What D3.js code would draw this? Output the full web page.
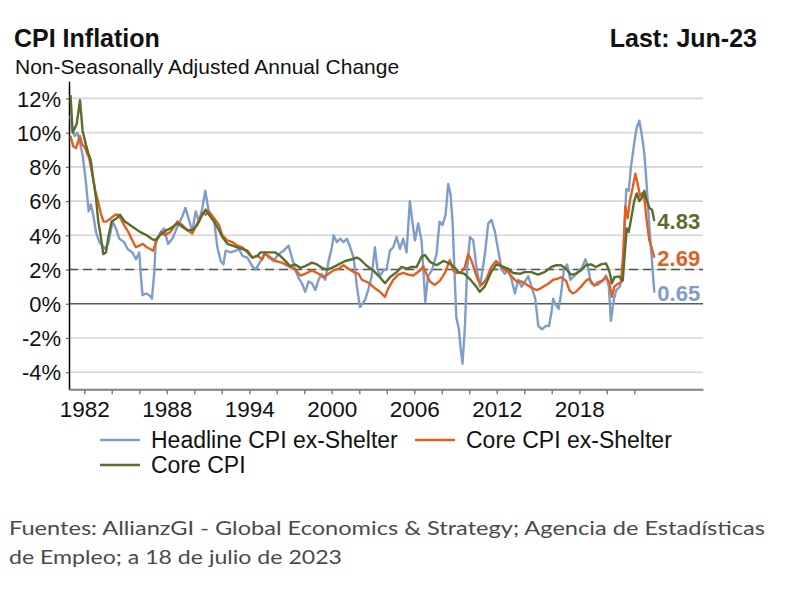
<!DOCTYPE html>
<html><head><meta charset="utf-8">
<script src="https://cdn.jsdelivr.net/npm/d3@7"></script>
<style>body{margin:0;background:#fff}svg{display:block}</style>
</head><body>
<script>
// ---- DATA (decimal year, % yoy) ----
const headlineExShelter = [
[1981.00,11.0],[1981.10,10.2],[1981.30,9.8],[1981.50,10.0],[1981.64,9.6],[1981.88,8.7],[1982.12,7.1],[1982.32,5.4],[1982.48,5.8],[1982.65,5.2],[1982.85,4.2],
[1983.09,3.6],[1983.33,3.4],[1983.53,3.2],[1983.77,3.6],[1984.06,4.8],[1984.30,4.4],[1984.55,3.8],[1984.90,3.6],[1985.15,3.2],[1985.50,3.0],[1985.76,2.6],
[1986.00,3.0],[1986.13,1.5],[1986.24,0.5],[1986.50,0.6],[1986.73,0.5],[1986.92,0.3],[1987.09,1.8],[1987.20,3.6],[1987.58,4.2],[1987.82,4.4],
[1988.09,3.5],[1988.41,3.8],[1988.77,4.5],[1989.13,5.1],[1989.35,5.6],[1989.62,4.9],[1989.86,4.2],[1990.10,5.4],[1990.35,4.8],[1990.59,5.6],[1990.80,6.6],
[1991.07,5.3],[1991.44,4.9],[1991.68,3.3],[1991.92,2.5],[1992.12,2.3],[1992.28,3.1],[1992.65,3.0],[1993.01,3.1],[1993.25,3.2],[1993.50,2.8],[1993.86,2.7],
[1994.22,2.2],[1994.47,2.0],[1994.83,2.5],[1995.16,3.0],[1995.40,2.7],[1995.77,2.5],[1996.13,2.9],[1996.50,3.1],[1996.86,3.4],[1997.10,2.7],[1997.34,2.0],
[1997.59,1.5],[1997.83,1.2],[1998.07,0.7],[1998.31,1.3],[1998.56,1.2],[1998.80,0.8],[1999.04,1.4],[1999.28,1.75],[1999.53,1.4],[1999.77,2.5],[2000.01,3.3],
[2000.13,4.0],[2000.37,3.6],[2000.62,3.8],[2000.86,3.6],[2001.10,3.8],[2001.34,3.3],[2001.59,2.7],[2001.83,1.0],[2002.05,-0.2],[2002.41,0.2],[2002.65,0.8],
[2002.90,1.6],[2003.14,3.3],[2003.31,2.1],[2003.50,1.6],[2003.75,1.95],[2003.99,2.0],[2004.23,3.1],[2004.47,3.3],[2004.71,3.9],[2004.96,3.2],[2005.20,3.8],
[2005.44,3.0],[2005.68,6.0],[2005.88,4.7],[2006.05,3.7],[2006.29,4.7],[2006.53,3.7],[2006.68,1.75],[2006.80,0.1],[2007.00,1.6],[2007.30,2.0],[2007.62,2.9],
[2007.84,4.8],[2008.05,4.6],[2008.28,5.2],[2008.47,7.0],[2008.64,6.4],[2008.79,4.7],[2008.92,2.0],[2009.06,-0.8],[2009.25,-1.5],[2009.36,-2.5],[2009.51,-3.5],
[2009.68,-1.4],[2009.85,2.1],[2010.05,3.9],[2010.29,3.7],[2010.53,2.1],[2010.78,1.0],[2011.14,2.9],[2011.38,4.7],[2011.62,4.9],[2011.87,4.2],[2012.11,3.1],
[2012.35,2.0],[2012.59,1.75],[2012.84,2.0],[2013.08,1.4],[2013.32,0.6],[2013.56,1.4],[2013.80,1.0],[2014.05,1.3],[2014.29,1.6],[2014.53,1.0],[2014.80,0.3],
[2015.02,-1.3],[2015.30,-1.5],[2015.55,-1.3],[2015.80,-1.3],[2015.98,-0.5],[2016.10,0.3],[2016.25,0.0],[2016.50,-0.3],[2016.68,0.6],[2016.88,2.0],[2017.12,2.3],
[2017.35,1.4],[2017.60,1.6],[2017.88,1.85],[2018.20,2.1],[2018.45,2.6],[2018.62,2.2],[2018.85,1.2],[2019.10,1.1],[2019.35,1.1],[2019.70,1.35],[2019.95,1.65],
[2020.15,1.0],[2020.30,-1.0],[2020.50,0.2],[2020.70,0.8],[2020.95,1.0],[2021.16,1.8],[2021.30,4.5],[2021.42,6.7],[2021.60,6.6],[2021.76,8.0],[2022.00,9.4],
[2022.18,10.3],[2022.37,10.7],[2022.56,9.8],[2022.73,8.8],[2022.90,7.0],[2023.10,4.5],[2023.27,2.7],[2023.46,0.65]
];
const coreExShelter = [
[1981.00,9.8],[1981.20,9.2],[1981.40,9.1],[1981.68,9.8],[1981.85,9.3],[1982.00,9.2],[1982.36,8.5],[1982.60,7.5],[1982.80,6.6],[1983.00,6.0],[1983.20,5.3],
[1983.40,4.8],[1983.60,4.8],[1983.94,5.0],[1984.25,5.2],[1984.47,5.2],[1984.70,4.9],[1984.90,4.6],[1985.20,4.2],[1985.50,3.7],[1985.75,3.3],[1986.00,3.4],
[1986.25,3.5],[1986.55,3.3],[1986.80,3.2],[1987.00,3.1],[1987.27,3.7],[1987.60,4.2],[1987.85,4.0],[1988.28,4.2],[1988.77,4.8],[1989.13,4.6],[1989.50,4.3],
[1989.86,4.1],[1990.22,4.7],[1990.59,5.3],[1990.83,5.2],[1991.07,5.4],[1991.44,5.0],[1991.80,4.6],[1992.04,4.0],[1992.41,3.7],[1992.77,3.6],[1993.13,3.4],
[1993.50,3.3],[1993.86,3.0],[1994.22,2.7],[1994.59,2.8],[1994.95,2.6],[1995.10,2.9],[1995.40,2.8],[1995.89,2.5],[1996.37,2.4],[1996.86,2.2],[1997.34,2.0],
[1997.71,1.65],[1998.07,1.75],[1998.56,1.95],[1999.04,1.75],[1999.40,1.55],[1999.77,1.75],[2000.13,1.95],[2000.50,2.05],[2000.86,2.25],[2001.22,2.05],
[2001.59,1.85],[2001.95,1.75],[2002.19,1.4],[2002.50,1.3],[2002.80,1.15],[2003.14,0.9],[2003.50,0.7],[2003.87,0.4],[2004.11,0.9],[2004.47,1.4],[2004.84,1.7],
[2005.20,1.8],[2005.56,1.7],[2005.93,1.65],[2006.17,1.8],[2006.50,2.0],[2006.65,2.2],[2006.90,1.7],[2007.14,1.3],[2007.50,1.1],[2007.87,1.35],[2008.23,1.8],
[2008.59,2.55],[2008.84,1.95],[2009.08,1.8],[2009.44,1.85],[2009.68,2.15],[2009.92,2.9],[2010.17,2.5],[2010.45,1.8],[2010.65,1.35],[2010.90,1.1],[2011.25,1.45],
[2011.60,2.15],[2011.95,2.5],[2012.25,2.3],[2012.55,2.0],[2012.84,1.85],[2013.08,1.6],[2013.44,1.3],[2013.80,1.3],[2014.10,1.15],[2014.50,0.95],[2014.90,0.8],
[2015.20,0.9],[2015.50,1.05],[2015.80,1.2],[2016.10,1.4],[2016.40,1.45],[2016.67,1.55],[2017.04,1.35],[2017.28,0.8],[2017.52,0.6],[2017.76,0.7],[2018.13,1.0],
[2018.49,1.35],[2018.73,1.45],[2019.10,1.05],[2019.34,1.25],[2019.70,1.35],[2019.95,1.55],[2020.19,1.25],[2020.38,0.4],[2020.55,1.0],[2020.79,1.15],
[2021.04,1.25],[2021.21,3.1],[2021.35,5.7],[2021.52,5.0],[2021.69,6.05],[2021.89,6.8],[2022.08,7.6],[2022.25,7.0],[2022.42,6.3],[2022.56,6.45],[2022.73,6.2],
[2022.90,4.9],[2023.10,3.7],[2023.29,3.2],[2023.46,2.69]
];
const coreCPI = [
[1981.00,12.2],[1981.16,10.0],[1981.45,10.5],[1981.69,11.9],[1981.88,10.1],[1982.12,9.3],[1982.29,8.8],[1982.47,8.4],[1982.65,7.3],[1982.85,6.2],[1983.02,4.8],
[1983.19,4.0],[1983.38,2.9],[1983.58,3.0],[1983.75,3.9],[1983.99,4.8],[1984.36,5.0],[1984.60,5.2],[1984.96,4.8],[1985.32,4.6],[1985.69,4.4],[1986.05,4.2],
[1986.54,4.0],[1986.90,3.8],[1987.14,3.7],[1987.50,4.0],[1987.99,4.3],[1988.28,4.4],[1988.77,4.7],[1989.13,4.5],[1989.50,4.3],[1989.86,4.3],[1990.22,4.6],
[1990.59,5.2],[1990.83,5.5],[1991.07,5.2],[1991.44,4.8],[1991.80,4.3],[1992.04,3.9],[1992.41,3.5],[1992.77,3.4],[1993.13,3.3],[1993.50,3.2],[1993.86,3.1],
[1994.22,2.7],[1994.59,2.8],[1994.83,3.0],[1995.40,3.0],[1995.89,3.0],[1996.25,2.8],[1996.62,2.5],[1996.98,2.2],[1997.34,2.3],[1997.71,2.1],[1998.07,2.2],
[1998.56,2.4],[1998.92,2.3],[1999.28,2.1],[1999.65,2.0],[2000.01,2.1],[2000.50,2.3],[2000.98,2.5],[2001.47,2.6],[2001.83,2.7],[2002.05,2.6],[2002.50,2.25],
[2003.00,1.95],[2003.50,1.55],[2003.87,1.2],[2004.23,1.55],[2004.72,1.85],[2005.08,2.15],[2005.44,2.05],[2005.80,2.15],[2006.17,2.15],[2006.53,2.75],
[2006.78,2.85],[2007.14,2.45],[2007.63,2.25],[2008.11,2.5],[2008.60,2.35],[2009.08,2.0],[2009.18,1.85],[2009.66,1.75],[2010.15,1.35],[2010.51,1.0],
[2010.76,0.7],[2011.12,1.0],[2011.60,1.85],[2011.97,2.3],[2012.33,2.2],[2012.82,2.05],[2013.18,1.8],[2013.67,1.75],[2014.03,1.85],[2014.51,1.85],
[2015.00,1.7],[2015.48,1.85],[2015.97,2.15],[2016.33,2.25],[2016.67,2.25],[2017.04,2.05],[2017.40,1.7],[2017.76,1.75],[2018.13,1.95],[2018.49,2.25],
[2018.85,2.3],[2019.22,2.15],[2019.58,2.3],[2019.95,2.35],[2020.19,1.9],[2020.38,1.2],[2020.55,1.55],[2020.90,1.6],[2021.16,1.35],[2021.30,2.8],[2021.45,4.4],
[2021.60,4.2],[2021.76,4.9],[2022.00,6.0],[2022.18,6.45],[2022.37,6.0],[2022.56,6.2],[2022.73,6.6],[2022.90,6.05],[2023.10,5.6],[2023.29,5.5],[2023.46,4.83]
];
const seriesNames = ["Headline CPI ex-Shelter", "Core CPI ex-Shelter", "Core CPI"];
const seriesColors = ["#7f9dcb", "#e2601f", "#5a6e2b"];
const yTicks = [-4, -2, 0, 2, 4, 6, 8, 10, 12];
const xTickYears = d3.range(1982, 2023, 2);
const xLabelYears = [1982, 1988, 1994, 2000, 2006, 2012, 2018];
const targetLevel = 2;
const titleText = "CPI Inflation";
const subtitleText = "Non-Seasonally Adjusted Annual Change";
const lastText = "Last: Jun-23";
const footerLines = ["Fuentes: AllianzGI - Global Economics & Strategy; Agencia de Estadísticas", "de Empleo; a 18 de julio de 2023"];

// ---- CHART ----
const W = 810, H = 602;
const svg = d3.select("body").append("svg").attr("width", W).attr("height", H)
  .style("font-family", "'Liberation Sans', Arial, sans-serif");

const x = d3.scaleLinear().domain([1980.89, 2027]).range([69, 703]);
const y = d3.scaleLinear().domain([-5, 13]).range([389.3, 81.3]);

// titles
svg.append("text").attr("x", 14).attr("y", 46.5).attr("font-size", 25).attr("font-weight", "bold").attr("fill", "#111").text(titleText);
svg.append("text").attr("x", 757).attr("y", 46.5).attr("text-anchor", "end").attr("font-size", 25).attr("font-weight", "bold").attr("fill", "#111").text(lastText);
svg.append("text").attr("x", 15).attr("y", 74).attr("font-size", 21).attr("fill", "#111").text(subtitleText);

// gridlines
svg.append("g").selectAll("line").data(yTicks.filter(d => d !== 0)).join("line")
  .attr("x1", x.range()[0]).attr("x2", x.range()[1])
  .attr("y1", d => y(d)).attr("y2", d => y(d))
  .attr("stroke", "#d6d6d6").attr("stroke-width", 1.6);
svg.append("line").attr("x1", x.range()[0]).attr("x2", x.range()[1]).attr("y1", y(0)).attr("y2", y(0))
  .attr("stroke", "#5a5a5a").attr("stroke-width", 1.3);
svg.append("line").attr("x1", x.range()[0]).attr("x2", x.range()[1]).attr("y1", y(targetLevel)).attr("y2", y(targetLevel))
  .attr("stroke", "#555").attr("stroke-width", 1.3).attr("stroke-dasharray", "9,5");

// y axis
const yAxis = svg.append("g").attr("transform", `translate(${x.range()[0]},0)`)
  .call(d3.axisLeft(y).tickValues(yTicks).tickFormat(d => d + "%").tickSize(3).tickSizeOuter(0));
yAxis.select(".domain").attr("stroke", "#000").attr("stroke-width", 1.5);
yAxis.selectAll(".tick line").attr("stroke", "#666").attr("stroke-width", 1.2);
yAxis.selectAll(".tick text").attr("font-size", 22).attr("fill", "#111").attr("x", -8).attr("dy", "0.35em")
  .style("font-family", "'Liberation Sans', Arial, sans-serif");

// x axis
const xAxis = svg.append("g").attr("transform", `translate(0,${y.range()[0]})`)
  .call(d3.axisBottom(x).tickValues(xTickYears).tickFormat(d => xLabelYears.includes(d) ? String(d) : "").tickSize(5).tickSizeOuter(0));
xAxis.select(".domain").attr("stroke", "#808080").attr("stroke-width", 2);
xAxis.selectAll(".tick line").attr("stroke", "#808080").attr("stroke-width", 1.5);
xAxis.selectAll(".tick text").attr("font-size", 22.5).attr("fill", "#111").attr("y", 12).attr("dy", "0.71em")
  .style("font-family", "'Liberation Sans', Arial, sans-serif");

// series
const series = [headlineExShelter, coreExShelter, coreCPI];
const line = d3.line().x(d => x(d[0])).y(d => y(d[1]));
series.forEach((s, i) => {
  svg.append("path").datum(s).attr("d", line).attr("fill", "none")
    .attr("stroke", seriesColors[i]).attr("stroke-width", 2.4).attr("stroke-linejoin", "round");
});
// end labels
series.forEach((s, i) => {
  const last = s[s.length - 1];
  svg.append("text").attr("x", x(last[0]) + 3).attr("y", y(last[1])).attr("dy", "0.36em")
    .attr("font-size", 22).attr("font-weight", "bold").attr("fill", seriesColors[i])
    .text(d3.format(".2f")(last[1]));
});

// legend
const legPos = [[100, 440], [415, 440], [100, 465]];
seriesNames.forEach((n, i) => {
  const [lx, ly] = legPos[i];
  svg.append("line").attr("x1", lx).attr("x2", lx + 40).attr("y1", ly).attr("y2", ly)
    .attr("stroke", seriesColors[i]).attr("stroke-width", 2.4);
  svg.append("text").attr("x", lx + 51).attr("y", ly).attr("dy", "0.35em")
    .attr("font-size", 23).attr("fill", "#111").text(n);
});

// footer
const footerWidths = [756, 333];
footerLines.forEach((t, i) => {
  svg.append("text").attr("x", 9).attr("y", 535 + i * 28.5)
    .attr("font-size", 19.5).attr("fill", "#4a4a4a")
    .style("font-family", "Lato, 'Open Sans', sans-serif")
    .attr("textLength", footerWidths[i]).attr("lengthAdjust", "spacingAndGlyphs")
    .text(t);
});
</script>
</body></html>
